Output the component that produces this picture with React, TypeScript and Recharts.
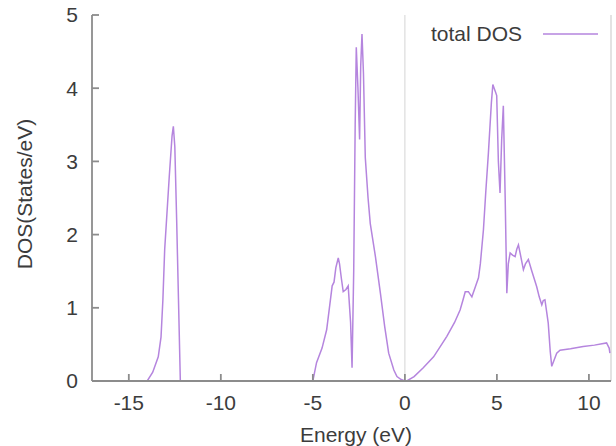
import React from 'react';
import { LineChart, Line, XAxis, YAxis, ReferenceLine, Legend } from 'recharts';

const energy = [
  -17, -14.0, -13.7, -13.4, -13.25, -13.15, -13.05, -12.95, -12.8, -12.65, -12.58, -12.5, -12.4, -12.3, -12.2,
  -5.0, -4.8, -4.5, -4.25, -4.1, -3.95, -3.85, -3.75, -3.62, -3.55, -3.45, -3.35, -3.2, -3.08, -2.95, -2.87,
  -2.78, -2.7, -2.64, -2.55, -2.46, -2.4, -2.33, -2.25, -2.15, -2.0, -1.88, -1.6, -1.33, -1.1, -0.88, -0.6,
  -0.43, -0.2, 0, 0.1, 0.5, 1.0, 1.56, 2.0, 2.28, 2.7, 3.0, 3.15, 3.28, 3.45, 3.64, 3.85, 4.0, 4.1, 4.27,
  4.4, 4.54, 4.7, 4.78, 4.85, 4.92, 4.99, 5.08, 5.17, 5.26, 5.35, 5.45, 5.54, 5.62, 5.72, 5.85, 5.99, 6.08,
  6.17, 6.3, 6.44, 6.55, 6.71, 6.9, 7.16, 7.3, 7.44, 7.52, 7.61, 7.7, 7.79, 7.9, 7.98, 8.1, 8.25, 8.43, 9.0,
  9.69, 10.3, 10.96, 11.1, 11.14,
];

const totalDos = [
  0, 0, 0.12, 0.33, 0.6, 1.1, 1.8, 2.2, 2.8, 3.35, 3.48, 3.2, 2.2, 1.1, 0,
  0, 0.25, 0.45, 0.7, 1.0, 1.3, 1.35, 1.55, 1.68, 1.6, 1.4, 1.22, 1.25, 1.3, 0.8, 0.18,
  1.5, 3.5, 4.56, 4.0, 3.3, 4.3, 4.74, 4.2, 3.05, 2.5, 2.15, 1.7, 1.2, 0.75, 0.38, 0.15,
  0.06, 0.02, 0, 0, 0.06, 0.18, 0.33, 0.5, 0.61, 0.8, 0.97, 1.1, 1.22, 1.22, 1.15, 1.3, 1.41, 1.6, 2.07,
  2.6, 3.12, 3.8, 4.05, 4.0, 3.95, 3.9, 3.0, 2.57, 3.3, 3.76, 2.5, 1.2, 1.6, 1.75, 1.72, 1.7, 1.8,
  1.86, 1.7, 1.52, 1.6, 1.66, 1.5, 1.29, 1.15, 1.04, 1.1, 1.11, 0.95, 0.79, 0.4, 0.2, 0.28, 0.38, 0.42, 0.44,
  0.47, 0.49, 0.52, 0.45, 0.38,
];

const xTicks = [-15, -10, -5, 0, 5, 10];
const yTicks = [0, 1, 2, 3, 4, 5];
const xDomain = [-17, 11.2];
const yDomain = [0, 5];

const seriesName = 'total DOS';
const xLabel = 'Energy (eV)';
const yLabel = 'DOS(States/eV)';

const data = energy.map((e, i) => ({ energy: e, dos: totalDos[i] }));

const FONT = '"Liberation Sans", Arial, Helvetica, sans-serif';
const LINE_COLOR = '#b585de';
const AXIS_COLOR = '#8c8c8c';
const TEXT_COLOR = '#3c3c3c';

const LegendContent = (props: any) => {
  const item = props.payload && props.payload[0];
  return (
    <svg width={616} height={50} style={{ display: 'block' }}>
      <text x={522} y={41} textAnchor="end" fontFamily={FONT} fontSize={21} fill={TEXT_COLOR}>
        {item ? item.value : seriesName}
      </text>
      <line x1={543} x2={598} y1={34} y2={34} stroke={LINE_COLOR} strokeWidth={1.5} />
    </svg>
  );
};

export default function App() {
  return (
    <div style={{ position: 'absolute', left: 0, top: 0, width: 616, height: 446, background: '#fff' }}>
      <LineChart
        width={616}
        height={446}
        data={data}
        margin={{ top: 15, right: 5, bottom: 0, left: 32 }}
      >
        <XAxis
          xAxisId="bottom"
          dataKey="energy"
          type="number"
          domain={xDomain}
          ticks={xTicks}
          allowDataOverflow
          height={65}
          tickSize={-7}
          tickMargin={21}
          stroke={AXIS_COLOR}
          strokeWidth={1.8}
          tick={{ fill: TEXT_COLOR, fontSize: 21, fontFamily: FONT }}
          label={{
            content: (p: any) => (
              <text x={356} y={442} textAnchor="middle" fontFamily={FONT} fontSize={21} fill={TEXT_COLOR}>
                {xLabel}
              </text>
            ),
          }}
        />
        <XAxis
          xAxisId="top"
          orientation="top"
          dataKey="energy"
          type="number"
          domain={xDomain}
          ticks={xTicks}
          allowDataOverflow
          height={0}
          tickSize={-7}
          tick={false}
          stroke={AXIS_COLOR}
          strokeWidth={1.8}
        />
        <YAxis
          yAxisId="left"
          type="number"
          domain={yDomain}
          ticks={yTicks}
          width={60}
          tickSize={-7}
          tickMargin={21}
          stroke={AXIS_COLOR}
          strokeWidth={1.8}
          tick={{ fill: TEXT_COLOR, fontSize: 21, fontFamily: FONT }}
          label={{
            content: (p: any) => {
              const vb = p.viewBox || { y: 15, height: 366 };
              const cy = vb.y + vb.height / 2 - 4;
              return (
                <text
                  x={32}
                  y={cy}
                  transform={`rotate(-90, 32, ${cy})`}
                  textAnchor="middle"
                  fontFamily={FONT}
                  fontSize={21}
                  fill={TEXT_COLOR}
                >
                  {yLabel}
                </text>
              );
            },
          }}
        />
        <ReferenceLine xAxisId="bottom" yAxisId="left" x={0} stroke="#dcdcdc" strokeWidth={1.2} />
        <ReferenceLine xAxisId="bottom" yAxisId="left" x={xDomain[1]} stroke="#d0d0d0" strokeWidth={1.2} />
        <Legend
          layout="horizontal"
          verticalAlign="middle"
          align="center"
          content={<LegendContent />}
          wrapperStyle={{ position: 'absolute', left: 0, top: 0, width: 616, height: 50 }}
        />
        <Line
          xAxisId="bottom"
          yAxisId="left"
          type="linear"
          dataKey="dos"
          name={seriesName}
          stroke={LINE_COLOR}
          strokeWidth={1.5}
          dot={false}
          isAnimationActive={false}
        />
      </LineChart>
    </div>
  );
}
